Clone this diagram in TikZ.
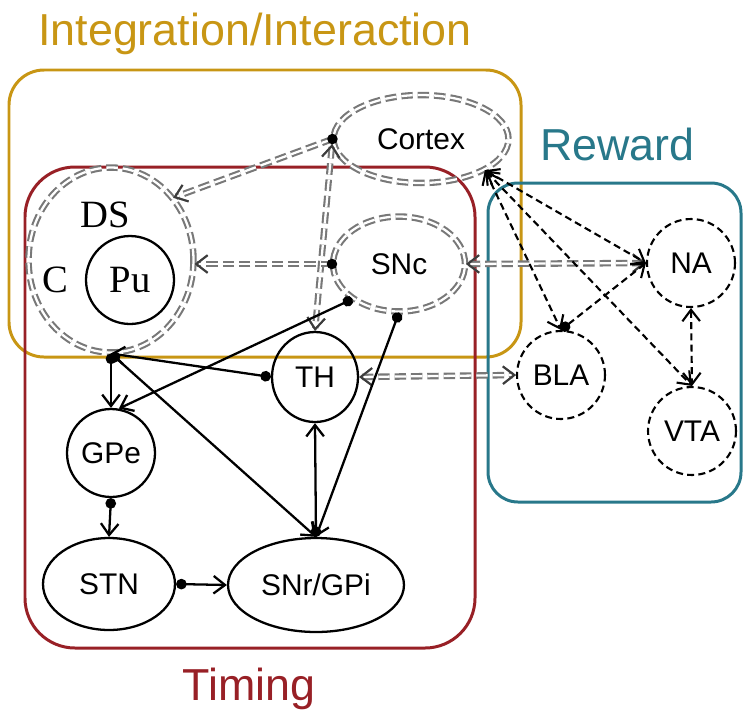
\documentclass[tikz,border=0pt]{standalone}
\usepackage{fontspec}
\setmainfont{Liberation Sans}
\newfontfamily\serifname{Liberation Serif}
\usetikzlibrary{arrows.meta,shapes.geometric}
\definecolor{integr}{RGB}{200,150,20}
\definecolor{timing}{RGB}{152,32,38}
\definecolor{reward}{RGB}{40,120,138}
\definecolor{relaygray}{RGB}{120,120,120}
\definecolor{tipgray}{RGB}{60,60,60}
\begin{document}
\begin{tikzpicture}[x=0.02cm, y=-0.02cm,
  >={Straight Barb[length=6.5pt,width=10pt]},
  region/.style={line width=1.7pt},
  title/.style={inner sep=0pt, font=\fontsize{25.5}{30}\selectfont},
  label/.style={font=\fontsize{17}{20}\selectfont, inner sep=0pt},
  basal/.style={label, draw, line width=1.3pt, ellipse},
  relaynode/.style={label, ellipse, draw=relaygray, double=white, double distance=1.3pt,
    line width=1.2pt, dash pattern=on 6.5pt off 2.8pt},
  rewnode/.style={label, circle, draw, line width=1.2pt, dash pattern=on 4pt off 2.4pt,
    minimum size=1.76cm},
  link/.style={line width=1.3pt},
  rewlink/.style={line width=1.2pt, dash pattern=on 4pt off 2.4pt},
  relay/.style={draw=relaygray, double=white, double distance=1.3pt, line width=1.2pt,
    dash pattern=on 6.5pt off 2.8pt,
    postaction={draw=tipgray, double=tipgray, double distance=0.2pt, line width=1.1pt,
      dash pattern=on 0pt off 400pt}}]
  \useasboundingbox (0,0) rectangle (743,711);

  % regions
  \draw[region, integr, rounded corners=0.7cm] (9,70) rectangle (521,357);
  \draw[region, timing, rounded corners=1cm] (25,167) rectangle (475,648);
  \draw[region, reward, rounded corners=0.6cm] (488,183) rectangle (741,502);
  \node[title, integr, anchor=base west] (intlabel) at (38,45) {Integration/Interaction};
  \node[title, reward, anchor=base west] (rewlabel) at (540,160) {Reward};
  \node[title, timing, anchor=base] (timlabel) at (249,700) {Timing};

  % nodes
  \node[relaynode, minimum width=3.5cm, minimum height=1.76cm] (cortex) at (421,139) {Cortex};
  \node[relaynode, minimum width=3.3cm, minimum height=3.7cm] (ds) at (111,260) {};
  \node[basal, circle, minimum size=1.76cm, font=\serifname\fontsize{22}{26}\selectfont] (pu) at (130,280) {Pu};
  \node[anchor=base, inner sep=0pt, font=\serifname\fontsize{22}{26}\selectfont] (dslabel) at (105,227) {DS};
  \node[anchor=base, inner sep=0pt, font=\serifname\fontsize{22}{26}\selectfont] (clabel) at (55,292) {C};
  \node[relaynode, minimum width=2.64cm, minimum height=1.9cm] (snc) at (399,264) {SNc};
  \node[basal, minimum width=1.72cm, minimum height=1.8cm] (th) at (315,377) {TH};
  \node[basal, minimum size=1.76cm] (gpe) at (111,453) {GPe};
  \node[basal, minimum width=2.64cm, minimum height=1.84cm] (stn) at (109,584) {STN};
  \node[basal, minimum width=3.52cm, minimum height=1.88cm] (snr) at (316,585) {SNr/GPi};
  \foreach \name/\x/\y/\txt in {na/691/263/NA, bla/561/375/BLA, vta/692/431/VTA}
    \node[rewnode] (\name) at (\x,\y) {\txt};

  % gray relays
  \draw[relay, ->] (cortex.west) -- (ds.45);
  \draw[relay, <->, shorten <=3pt] (cortex.west) -- (th.north);
  \draw[relay, ->] (snc.west) -- (snc.west -| ds.east);
  \draw[relay, <->] (snc.east) -- (na.west);
  \draw[relay, <->] (th.east) -- (bla.west);
  \fill (cortex.west) circle[radius=3pt];
  \fill (snc.west) circle[radius=3pt];

  % reward links
  \foreach \target/\anc in {na/west, bla/north, vta/north}
    \draw[rewlink, <->] (cortex.334) -- (\target.\anc);
  \draw[rewlink, {Circle[length=6pt]}->] (bla.north) -- (na.west);
  \draw[rewlink, <->] (na.south) -- (vta.north);

  % basal ganglia links
  \draw[link, {Circle[length=6pt]}->] (ds.south) -- (gpe.north);
  \draw[link, {Circle[length=6pt]}->] (ds.south) -- (snr.north);
  \draw[link, {Circle[length=6pt]}->] (th.west) -- (ds.south);
  \draw[link, {Circle[length=6pt]}->] (snc.217) -- (gpe.80);
  \draw[link, {Circle[length=6pt]}->] (snc.south) -- (snr.north);
  \draw[link, {Circle[length=6pt]}->] (snr.north) -- (th.south);
  \draw[link, {Circle[length=6pt]}->] (gpe.south) -- (stn.north);
  \draw[link, {Circle[length=6pt]}->] (stn.east) -- (snr.west);
\end{tikzpicture}
\end{document}
